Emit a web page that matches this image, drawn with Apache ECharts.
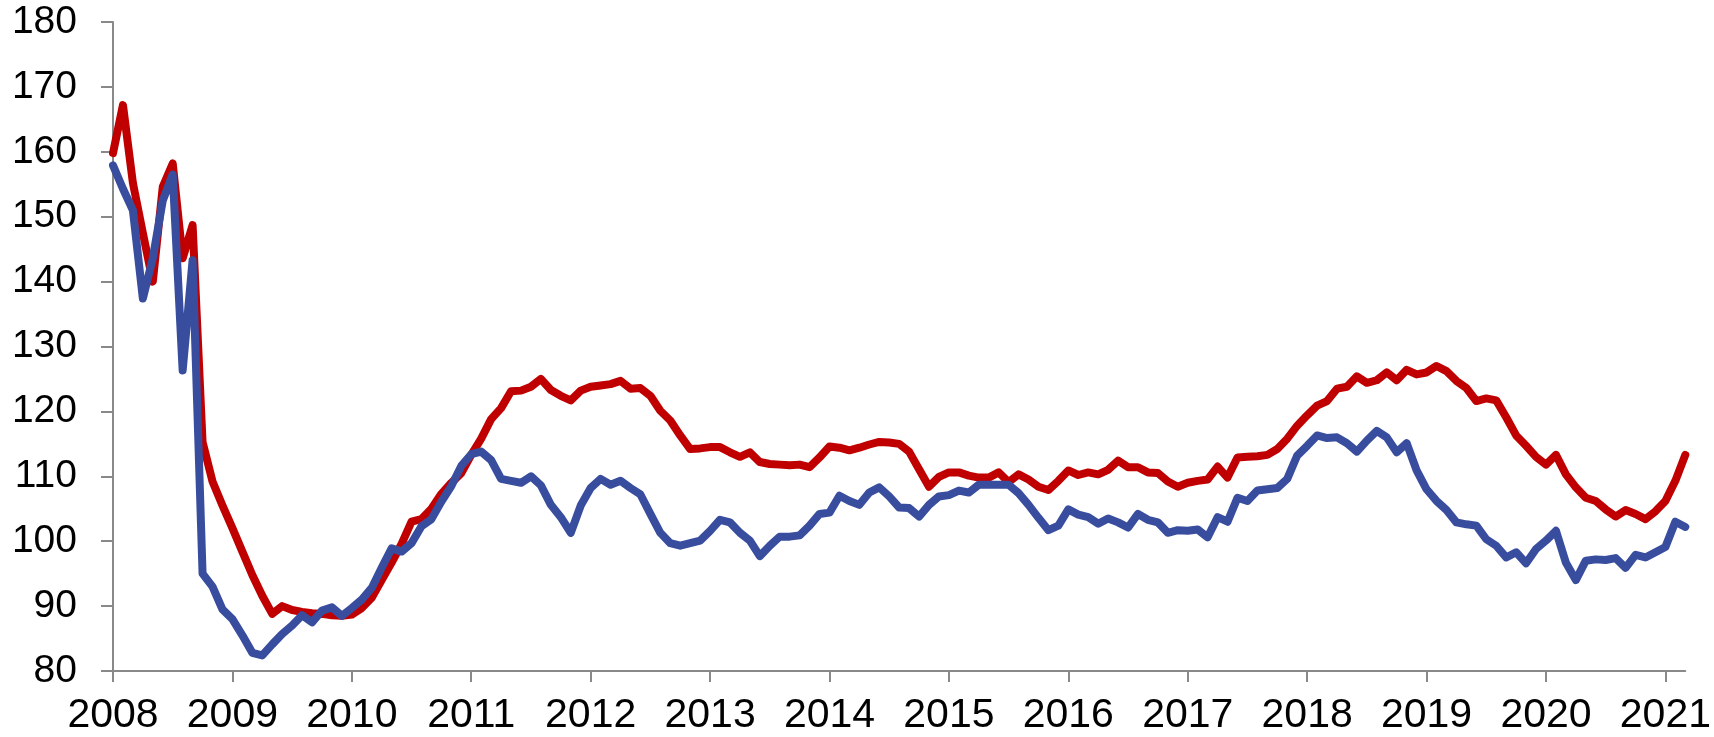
<!DOCTYPE html>
<html>
<head>
<meta charset="utf-8">
<script src="https://cdn.jsdelivr.net/npm/echarts@6/dist/echarts.min.js"></script>
<style>
html,body{margin:0;padding:0;background:#fff;}
#chart{width:1714px;height:737px;}
</style>
</head>
<body>
<div id="chart"></div>
<script>
// Year tick labels (monthly data, Jan 2008 .. Mar 2021)
var yearLabels = ['2008','2009','2010','2011','2012','2013','2014','2015','2016','2017','2018','2019','2020','2021'];
var lastYearMonths = 3;

// Red series (monthly)
var redSeries = [
 159.8,167.2,155.2,147.5,140.0,154.6,158.2,143.6,148.7,115.3,109.2,105.5,
 102.0,98.4,94.8,91.6,88.8,90.0,89.4,89.1,88.9,88.8,88.6,88.5,
 88.7,89.7,91.3,94.0,96.7,99.6,103.0,103.4,105.0,107.3,109.0,110.5,
 113.3,115.8,118.8,120.5,123.1,123.2,123.8,125.0,123.3,122.4,121.7,123.2,
 123.8,124.0,124.2,124.7,123.5,123.6,122.4,120.1,118.6,116.3,114.2,114.3,
 114.5,114.5,113.7,113.0,113.7,112.2,111.9,111.8,111.7,111.8,111.4,112.9,
 114.6,114.4,114.0,114.4,114.9,115.3,115.2,115.0,113.8,111.1,108.4,109.9,
 110.6,110.6,110.1,109.8,109.8,110.6,109.1,110.3,109.5,108.4,107.9,109.3,
 110.9,110.2,110.6,110.3,111.0,112.4,111.4,111.4,110.6,110.5,109.2,108.4,
 109.0,109.3,109.5,111.5,109.8,112.9,113.0,113.1,113.3,114.2,115.8,117.8,
 119.4,120.9,121.6,123.5,123.8,125.4,124.4,124.8,126.0,124.8,126.4,125.7,
 126.0,127.0,126.2,124.7,123.6,121.6,122.0,121.7,119.1,116.3,114.7,113.0,
 111.8,113.3,110.3,108.3,106.7,106.2,104.9,103.8,104.8,104.2,103.4,104.6,
 106.2,109.3,113.3
];

// Blue series (monthly)
var blueSeries = [
 157.9,154.3,151.0,137.4,143.6,152.5,156.5,126.3,143.3,95.0,93.0,89.5,
 88.0,85.5,82.8,82.4,84.1,85.7,87.0,88.6,87.5,89.3,89.8,88.5,
 89.7,91.0,92.8,95.9,98.9,98.4,99.7,102.3,103.4,106.1,108.5,111.6,
 113.4,113.8,112.5,109.6,109.3,109.0,110.0,108.6,105.6,103.7,101.3,105.5,
 108.2,109.6,108.7,109.3,108.2,107.2,104.2,101.3,99.7,99.3,99.7,100.1,
 101.6,103.3,102.9,101.3,100.1,97.7,99.3,100.7,100.7,100.9,102.4,104.2,
 104.4,107.0,106.2,105.6,107.5,108.3,106.9,105.2,105.1,103.8,105.6,106.9,
 107.1,107.8,107.5,108.7,108.7,108.7,108.7,107.4,105.6,103.6,101.7,102.4,
 104.9,104.1,103.7,102.7,103.5,102.9,102.1,104.2,103.3,102.9,101.3,101.7,
 101.6,101.8,100.6,103.7,103.0,106.7,106.2,107.8,108.0,108.2,109.6,113.2,
 114.7,116.3,115.9,116.0,115.1,113.8,115.5,117.0,116.0,113.7,115.1,110.9,
 108.0,106.2,104.8,102.9,102.6,102.4,100.3,99.3,97.5,98.3,96.6,98.8,
 100.1,101.6,96.7,94.0,97.0,97.2,97.1,97.4,95.9,97.9,97.5,98.3,
 99.1,103.0,102.2
];

var categories = [];
yearLabels.forEach(function (y, i) {
  var n = (i === yearLabels.length - 1) ? lastYearMonths : 12;
  for (var m = 1; m <= n; m++) categories.push(y + '-' + (m < 10 ? '0' + m : m));
});

var axisColor = '#898989';
var fontFamily = '"Liberation Sans", Arial, sans-serif';

var chart = echarts.init(document.getElementById('chart'), null, {renderer: 'canvas'});
chart.setOption({
  animation: false,
  backgroundColor: '#ffffff',
  grid: {left: 113, right: 24, top: 22, bottom: 66, containLabel: false},
  xAxis: {
    type: 'category',
    data: categories,
    boundaryGap: false,
    axisLine: {show: true, lineStyle: {color: axisColor, width: 2}},
    axisTick: {show: true, interval: 11, length: 11, lineStyle: {color: axisColor, width: 2}},
    axisLabel: {
      interval: 11,
      margin: 24,
      color: '#000',
      fontSize: 41,
      fontFamily: fontFamily,
      formatter: function (v) { return v.slice(0, 4); }
    },
    splitLine: {show: false}
  },
  yAxis: {
    type: 'value',
    min: 80,
    max: 180,
    interval: 10,
    axisLine: {show: true, lineStyle: {color: axisColor, width: 2}},
    axisTick: {show: true, length: 12, lineStyle: {color: axisColor, width: 2}},
    axisLabel: {margin: 36, color: '#000', fontSize: 39, fontFamily: fontFamily},
    splitLine: {show: false}
  },
  series: [
    {
      name: 'Red', type: 'line', data: redSeries, symbol: 'none', smooth: false,
      lineStyle: {color: '#C00000', width: 8, join: 'round', cap: 'round'},
      itemStyle: {color: '#C00000'}
    },
    {
      name: 'Blue', type: 'line', data: blueSeries, symbol: 'none', smooth: false,
      lineStyle: {color: '#394D9E', width: 8, join: 'round', cap: 'round'},
      itemStyle: {color: '#394D9E'}
    }
  ]
});
</script>
</body>
</html>
